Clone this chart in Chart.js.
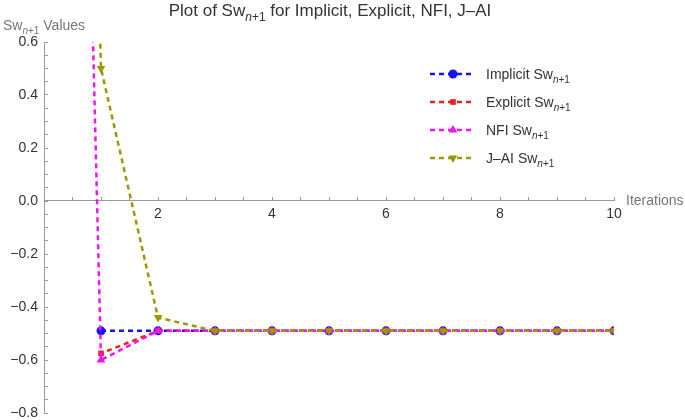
<!DOCTYPE html>
<html>
<head>
<meta charset="utf-8">
<script src="https://cdn.jsdelivr.net/npm/chart.js@4/dist/chart.umd.min.js"></script>
<style>
  html, body { margin: 0; padding: 0; background: #fff; }
  #wrap { position: relative; width: 685px; height: 420px; }
</style>
</head>
<body>
<div id="wrap"><canvas id="chart"></canvas></div>
<script>
// Sw(n+1) per iteration for four solvers. NFI and J-AI start from an
// initial guess at iteration 0 that is far above the plotted range.
const iterations      = [1, 2, 3, 4, 5, 6, 7, 8, 9, 10]
const iterationsFrom0 = [0, 1, 2, 3, 4, 5, 6, 7, 8, 9, 10]

const implicitSw = [-0.49, -0.49, -0.49, -0.49, -0.49, -0.49, -0.49, -0.49, -0.49, -0.49]
const explicitSw = [-0.575, -0.49, -0.49, -0.49, -0.49, -0.49, -0.49, -0.49, -0.49, -0.49]
const nfiSw      = [8.0, -0.6, -0.49, -0.49, -0.49, -0.49, -0.49, -0.49, -0.49, -0.49, -0.49]
const jaiSw      = [8.0, 0.5, -0.44, -0.49, -0.49, -0.49, -0.49, -0.49, -0.49, -0.49, -0.49]

const xTickLabels = [2, 4, 6, 8, 10]
const yTickLabels = [0.6, 0.4, 0.2, 0, -0.2, -0.4, -0.6, -0.8]

const FONT = '"Liberation Sans", Arial, sans-serif'
const pair = (xs, ys) => ys.map((y, i) => ({ x: xs[i], y }))

const series = [
  { name: "Implicit", xs: iterations,      ys: implicitSw, color: "#1414f0", style: "circle",   radius: 4.5, rotation: 0,   order: 3 },
  { name: "Explicit", xs: iterations,      ys: explicitSw, color: "#f01e1e", style: "rect",     radius: 4,   rotation: 0,   order: 2 },
  { name: "NFI",      xs: iterationsFrom0, ys: nfiSw,      color: "#f014f0", style: "triangle", radius: 5,   rotation: 0,   order: 1 },
  { name: "J-AI",     xs: iterationsFrom0, ys: jaiSw,      color: "#9a9a00", style: "triangle", radius: 5,   rotation: 180, order: 0 },
]

const datasets = series.map((s, i) => ({
  label: s.name,
  data: pair(s.xs, s.ys),
  borderColor: s.color,
  backgroundColor: s.color,
  borderWidth: 2.5,
  borderDash: [5, 4],
  borderDashOffset: i * 2.5,
  pointStyle: s.style,
  pointRadius: s.radius,
  pointRotation: s.rotation,
  pointBorderWidth: 0,
  tension: 0,
  order: s.order,
}))

// text with an "n+1" subscript, drawn as runs
function runs(prefix, suffix) {
  return [{ t: prefix }, { t: "n", sub: true, it: true }, { t: "+1", sub: true }, { t: suffix }]
}
function fontOf(r, size) {
  return (r.it ? "italic " : "") + (r.sub ? Math.round(size * 0.68) : size) + "px " + FONT
}
function drawRuns(ctx, parts, x, y, size, color, align) {
  ctx.save()
  ctx.fillStyle = color
  ctx.textBaseline = "alphabetic"
  ctx.textAlign = "left"
  let w = 0
  parts.forEach((r) => { ctx.font = fontOf(r, size); w += ctx.measureText(r.t).width })
  let cx = align === "center" ? x - w / 2 : x
  parts.forEach((r) => {
    ctx.font = fontOf(r, size)
    ctx.fillText(r.t, cx, r.sub ? y + size * 0.3 : y)
    cx += ctx.measureText(r.t).width
  })
  ctx.restore()
}

const labelsPlugin = {
  id: "labels",
  afterDraw(chart) {
    const ctx = chart.ctx
    drawRuns(ctx, runs("Plot of Sw", " for Implicit, Explicit, NFI, J\u2013AI"), 330, 16, 17, "#333", "center")
    drawRuns(ctx, runs("Sw", " Values"), 3, 30, 14, "#777", "left")
    ctx.save()
    ctx.font = "14px " + FONT
    ctx.fillStyle = "#777"
    ctx.textBaseline = "middle"
    ctx.fillText("Iterations", 626, 201)
    ctx.restore()

    // legend: dashed line with the marker in the middle
    series.forEach((s, i) => {
      const y = 74 + 28 * i
      ctx.save()
      ctx.strokeStyle = s.color
      ctx.fillStyle = s.color
      ctx.lineWidth = 2.5
      ctx.setLineDash([5, 4])
      ctx.beginPath()
      ctx.moveTo(430, y)
      ctx.lineTo(474, y)
      ctx.stroke()
      ctx.setLineDash([])
      Chart.helpers.drawPoint(ctx, { pointStyle: s.style, radius: s.radius, rotation: s.rotation, borderWidth: 0 }, 453, y)
      ctx.restore()
      drawRuns(ctx, runs(s.name.replace("-", "\u2013") + " Sw", ""), 486, y + 5, 14, "#333", "left")
    })
  }
}

new Chart(document.getElementById("chart"), {
  type: "line",
  data: { datasets },
  plugins: [labelsPlugin],
  options: {
    responsive: true,
    maintainAspectRatio: false,
    animation: false,
    layout: { padding: { top: 42, right: 71, bottom: 7, left: 0 } },
    plugins: { legend: { display: false }, tooltip: { enabled: false } },
    scales: {
      x: {
        type: "linear",
        position: { y: 0 },
        min: 0,
        max: 10,
        afterFit: (scale) => { scale.height = 0 },
        border: { color: "#999", width: 1 },
        grid: { drawOnChartArea: false, tickLength: -4, color: "#999" },
        ticks: {
          stepSize: 0.5,
          autoSkip: false,
          maxRotation: 0,
          padding: 9,
          color: "#333",
          font: { family: FONT, size: 14 },
          callback: (v) => (xTickLabels.includes(v) ? String(v) : ""),
        },
      },
      y: {
        type: "linear",
        min: -0.8,
        max: 0.6,
        afterFit: (scale) => {
          scale.width = 44
          scale.paddingTop = 0
          scale.paddingBottom = 0
        },
        border: { color: "#999", width: 1 },
        grid: { drawOnChartArea: false, tickLength: -4, color: "#999" },
        ticks: {
          stepSize: 0.05,
          autoSkip: false,
          padding: 10,
          color: "#333",
          font: { family: FONT, size: 14 },
          callback: (v) => {
            const hit = yTickLabels.find((t) => Math.abs(t - v) < 1e-6)
            if (hit === undefined) return ""
            return hit < 0 ? "\u2212" + Math.abs(hit).toFixed(1) : hit.toFixed(1)
          },
        },
      },
    },
  },
})
</script>
</body>
</html>
